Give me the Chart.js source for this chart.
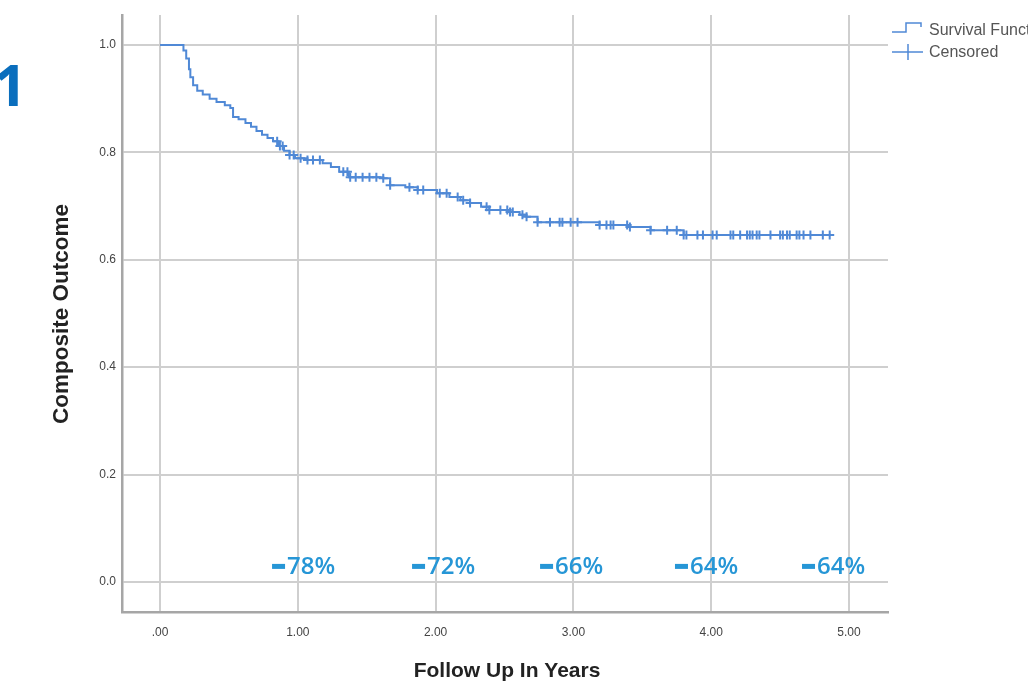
<!DOCTYPE html>
<html>
<head>
<meta charset="utf-8">
<script src="https://cdn.jsdelivr.net/npm/chart.js@4"></script>
<style>
    body { margin: 0; background: #fff; }
    #wrap { width: 1028px; height: 690px; position: relative; }
</style>
</head>
<body>
<div id="wrap"><canvas id="myChart" width="1028" height="690"></canvas></div>
<script>
// Kaplan-Meier steps (years, survival)
const survTime = [0, 0.17, 0.19, 0.21, 0.22, 0.24, 0.27, 0.31, 0.36, 0.41, 0.47, 0.51, 0.53, 0.57, 0.62, 0.66,
    0.70, 0.74, 0.78, 0.82, 0.86, 0.90, 0.94, 0.98, 1.07, 1.18, 1.24, 1.30, 1.37, 1.62, 1.67, 1.78,
    1.87, 2.01, 2.10, 2.18, 2.25, 2.33, 2.39, 2.54, 2.61, 2.66, 2.74, 3.19, 3.41, 3.56, 3.80, 4.88];
const survValue = [1.0, 0.99, 0.975, 0.955, 0.94, 0.925, 0.915, 0.908, 0.90, 0.894, 0.888, 0.883, 0.866, 0.862, 0.855, 0.848,
    0.840, 0.833, 0.827, 0.821, 0.812, 0.803, 0.795, 0.789, 0.786, 0.780, 0.773, 0.764, 0.754, 0.752, 0.739, 0.735,
    0.730, 0.724, 0.717, 0.711, 0.706, 0.699, 0.693, 0.689, 0.684, 0.680, 0.670, 0.665, 0.661, 0.655, 0.646, 0.646];

// censored times (marks sit on the curve)
const censTime = [0.85, 0.87, 0.89, 0.94, 0.97, 1.02, 1.07, 1.11, 1.16, 1.33, 1.36, 1.38, 1.42, 1.47, 1.52, 1.57,
    1.62, 1.67, 1.81, 1.87, 1.91, 2.03, 2.08, 2.16, 2.20, 2.25, 2.37, 2.39, 2.47, 2.52, 2.54, 2.56,
    2.63, 2.66, 2.74, 2.83, 2.90, 2.92, 2.98, 3.03, 3.19, 3.24, 3.27, 3.29, 3.39, 3.41, 3.56, 3.68,
    3.75, 3.80, 3.82, 3.90, 3.94, 4.01, 4.04, 4.14, 4.16, 4.21, 4.26, 4.28, 4.30, 4.33, 4.35, 4.43,
    4.50, 4.52, 4.55, 4.57, 4.62, 4.64, 4.67, 4.72, 4.81, 4.86];

// yearly percentages written under the curve
const pctLabels = ['78%', '72%', '66%', '64%', '64%'];
const pctX = [0.813, 1.829, 2.758, 3.737, 4.659];
const pctY = 0.028;

const xTicks = [0, 1, 2, 3, 4, 5];
const yTicks = [0, 0.2, 0.4, 0.6, 0.8, 1.0];

const blue = '#5089d6';
const gridCol = '#cfcfcf';

const survAt = (t) => {
    let v = survValue[0];
    for (let i = 0; i < survTime.length; i++) {
        if (survTime[i] <= t) v = survValue[i];
    }
    return v;
};

const extras = {
    id: 'extras',
    afterDraw: (chart) => {
        const ctx = chart.ctx;
        const xs = chart.scales.x;
        const ys = chart.scales.y;
        ctx.save();

        // axis titles
        ctx.fillStyle = '#222';
        ctx.textAlign = 'center';
        ctx.textBaseline = 'middle';
        ctx.font = 'bold 21px "Liberation Sans", Arial, sans-serif';
        ctx.fillText('Follow Up In Years', 507, 671);
        ctx.translate(62, 314);
        ctx.rotate(-Math.PI / 2);
        ctx.font = 'bold 22.5px "Liberation Sans", Arial, sans-serif';
        ctx.fillText('Composite Outcome', 0, 0);
        ctx.restore();

        // percent labels
        ctx.save();
        ctx.fillStyle = '#2696d6';
        ctx.font = '600 24px "Open Sans", sans-serif';
        ctx.textAlign = 'left';
        ctx.textBaseline = 'middle';
        pctLabels.forEach((txt, i) => {
            const px = xs.getPixelForValue(pctX[i]);
            const py = ys.getPixelForValue(pctY);
            ctx.fillRect(px, py - 3, 13, 5);
            ctx.fillText(txt, px + 15, py);
        });
        ctx.restore();

        // legend
        ctx.save();
        ctx.strokeStyle = blue;
        ctx.lineWidth = 1.5;
        ctx.beginPath();
        ctx.moveTo(892, 32);
        ctx.lineTo(906, 32);
        ctx.lineTo(906, 23);
        ctx.lineTo(921, 23);
        ctx.lineTo(921, 27);
        ctx.stroke();
        ctx.beginPath();
        ctx.moveTo(892, 52);
        ctx.lineTo(923, 52);
        ctx.moveTo(908, 44);
        ctx.lineTo(908, 60);
        ctx.stroke();
        ctx.fillStyle = '#555';
        ctx.font = '16px "Liberation Sans", Arial, sans-serif';
        ctx.textBaseline = 'middle';
        ctx.fillText('Survival Function', 929, 31);
        ctx.fillText('Censored', 929, 53);
        ctx.restore();

        // panel number
        ctx.save();
        ctx.fillStyle = '#0a6ebd';
        ctx.font = 'bold 58px "Open Sans", sans-serif';
        ctx.textAlign = 'right';
        ctx.textBaseline = 'alphabetic';
        ctx.fillText('1', 27, 106);
        ctx.restore();
    }
};

document.addEventListener('DOMContentLoaded', () => {
    const ctx = document.getElementById('myChart');

    new Chart(ctx, {
        type: 'line',
        data: {
            datasets: [{
                label: 'Survival Function',
                data: survTime.map((t, i) => ({ x: t, y: survValue[i] })),
                borderColor: blue,
                borderWidth: 2,
                stepped: 'before',
                pointRadius: 0,
                fill: false
            }, {
                label: 'Censored',
                data: censTime.map(t => ({ x: t, y: survAt(t) })),
                showLine: false,
                pointStyle: 'cross',
                pointRadius: 4.5,
                borderColor: blue,
                borderWidth: 2
            }]
        },
        options: {
            responsive: false,
            animation: false,
            layout: { padding: { left: 0, right: 140, top: 15, bottom: 0 } },
            plugins: {
                legend: { display: false },
                tooltip: { enabled: false }
            },
            scales: {
                x: {
                    type: 'linear',
                    min: -0.276,
                    max: 5.283,
                    afterBuildTicks: (s) => { s.ticks = xTicks.map(v => ({ value: v })); },
                    afterFit: (s) => { s.height = 78; },
                    grid: { color: gridCol, lineWidth: 2, drawTicks: false },
                    border: { color: '#a6a6a6', width: 2.5 },
                    ticks: {
                        padding: 13,
                        color: '#444',
                        font: { size: 12, family: '"Liberation Sans", Arial, sans-serif' },
                        callback: (v) => v === 0 ? '.00' : v.toFixed(2)
                    }
                },
                y: {
                    min: -0.056,
                    max: 1.056,
                    afterBuildTicks: (s) => { s.ticks = yTicks.map(v => ({ value: v })); },
                    afterFit: (s) => { s.width = 122; },
                    grid: { color: gridCol, lineWidth: 2, drawTicks: false },
                    border: { color: '#a6a6a6', width: 2.5 },
                    ticks: {
                        padding: 6,
                        color: '#444',
                        font: { size: 12, family: '"Liberation Sans", Arial, sans-serif' },
                        callback: (v) => v.toFixed(1)
                    }
                }
            }
        },
        plugins: [extras]
    });
});
</script>
</body>
</html>
